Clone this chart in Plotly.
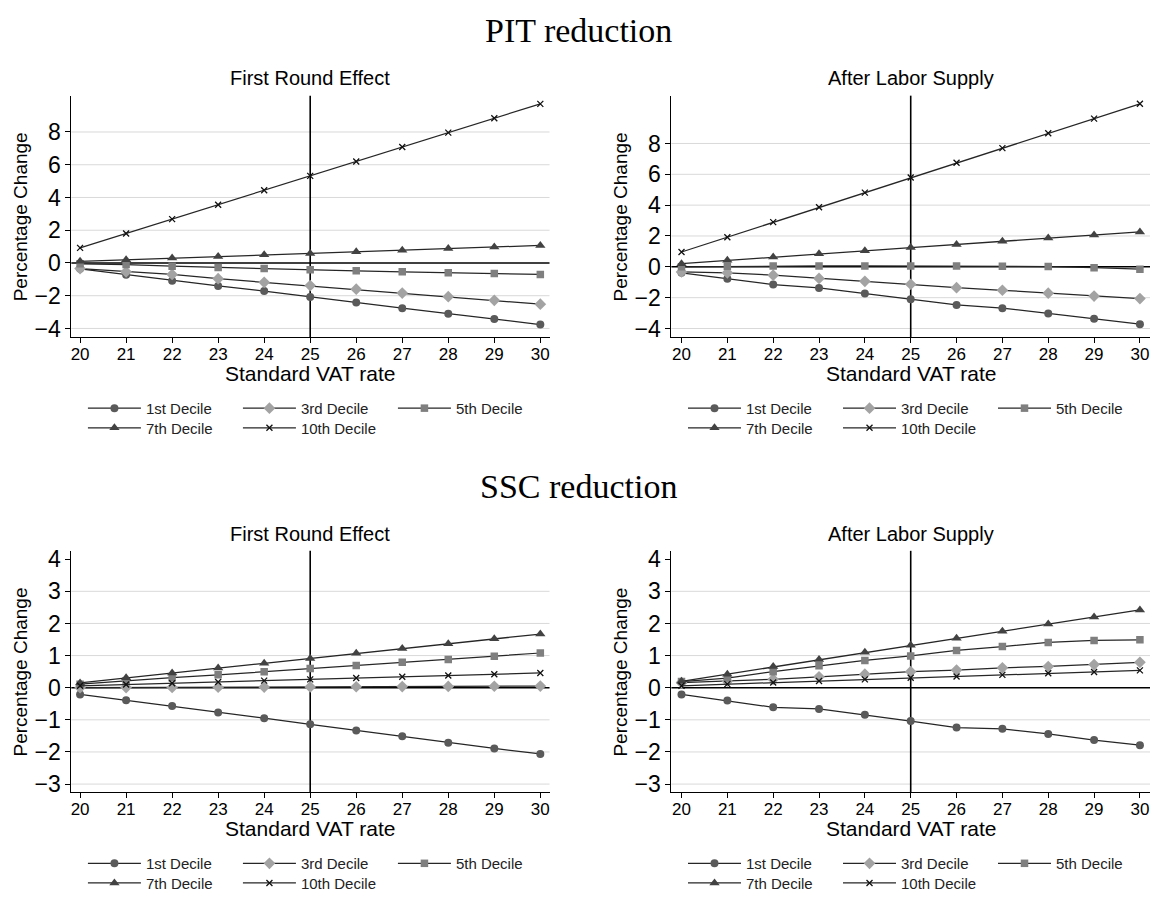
import plotly.graph_objects as go

W, H = 1150, 900

vat_rate = [20, 21, 22, 23, 24, 25, 26, 27, 28, 29, 30]
decile_names = ["1st Decile", "3rd Decile", "5th Decile", "7th Decile", "10th Decile"]

# PIT reduction - First Round Effect
pit_first_d1 = [-0.36, -0.72, -1.08, -1.40, -1.72, -2.08, -2.42, -2.76, -3.10, -3.42, -3.76]
pit_first_d3 = [-0.34, -0.54, -0.70, -0.96, -1.18, -1.38, -1.60, -1.84, -2.06, -2.28, -2.52]
pit_first_d5 = [-0.05, -0.10, -0.20, -0.28, -0.34, -0.42, -0.48, -0.54, -0.60, -0.64, -0.70]
pit_first_d7 = [0.10, 0.20, 0.30, 0.40, 0.50, 0.58, 0.68, 0.78, 0.88, 0.98, 1.07]
pit_first_d10 = [0.92, 1.80, 2.68, 3.56, 4.44, 5.32, 6.20, 7.08, 7.96, 8.84, 9.72]

# PIT reduction - After Labor Supply
pit_after_d1 = [-0.39, -0.77, -1.15, -1.37, -1.73, -2.10, -2.47, -2.68, -3.02, -3.36, -3.72]
pit_after_d3 = [-0.33, -0.39, -0.54, -0.75, -0.94, -1.13, -1.35, -1.52, -1.71, -1.90, -2.06]
pit_after_d5 = [0.00, 0.03, 0.05, 0.06, 0.06, 0.06, 0.05, 0.04, 0.02, -0.06, -0.15]
pit_after_d7 = [0.20, 0.42, 0.63, 0.84, 1.04, 1.25, 1.45, 1.66, 1.87, 2.06, 2.26]
pit_after_d10 = [0.96, 1.92, 2.90, 3.86, 4.81, 5.79, 6.75, 7.70, 8.66, 9.61, 10.57]

# SSC reduction - First Round Effect
ssc_first_d1 = [-0.21, -0.39, -0.57, -0.77, -0.95, -1.14, -1.33, -1.51, -1.71, -1.89, -2.06]
ssc_first_d3 = [0.00, 0.005, 0.01, 0.015, 0.02, 0.025, 0.03, 0.035, 0.04, 0.045, 0.05]
ssc_first_d5 = [0.11, 0.22, 0.31, 0.40, 0.50, 0.60, 0.69, 0.79, 0.88, 0.98, 1.08]
ssc_first_d7 = [0.15, 0.31, 0.46, 0.61, 0.76, 0.91, 1.07, 1.22, 1.37, 1.52, 1.67]
ssc_first_d10 = [0.06, 0.10, 0.14, 0.18, 0.22, 0.26, 0.30, 0.34, 0.38, 0.42, 0.46]

# SSC reduction - After Labor Supply
ssc_after_d1 = [-0.21, -0.40, -0.61, -0.66, -0.84, -1.04, -1.24, -1.28, -1.44, -1.63, -1.79]
ssc_after_d3 = [0.16, 0.20, 0.26, 0.34, 0.42, 0.50, 0.55, 0.62, 0.66, 0.72, 0.79]
ssc_after_d5 = [0.19, 0.30, 0.50, 0.68, 0.85, 0.99, 1.16, 1.28, 1.41, 1.47, 1.49]
ssc_after_d7 = [0.20, 0.42, 0.66, 0.88, 1.10, 1.32, 1.54, 1.76, 1.98, 2.20, 2.42]
ssc_after_d10 = [0.06, 0.11, 0.16, 0.21, 0.26, 0.31, 0.35, 0.40, 0.45, 0.49, 0.54]

panel_titles = ["First Round Effect", "After Labor Supply", "First Round Effect", "After Labor Supply"]
section_titles = ["PIT reduction", "SSC reduction"]
x_title = "Standard VAT rate"
y_title = "Percentage Change"
x_ticks = vat_rate
y_ticks_top = [-4, -2, 0, 2, 4, 6, 8]
y_ticks_bottom = [-3, -2, -1, 0, 1, 2, 3, 4]
grid_top = [-4, -2, 2, 4, 6, 8]
grid_bottom = [-3, -2, -1, 1, 2, 3]
ref_x = 25
ref_y = 0

panels = [
    [pit_first_d1, pit_first_d3, pit_first_d5, pit_first_d7, pit_first_d10],
    [pit_after_d1, pit_after_d3, pit_after_d5, pit_after_d7, pit_after_d10],
    [ssc_first_d1, ssc_first_d3, ssc_first_d5, ssc_first_d7, ssc_first_d10],
    [ssc_after_d1, ssc_after_d3, ssc_after_d5, ssc_after_d7, ssc_after_d10],
]

# ---- styling / geometry ----
SANS = "Liberation Sans, Arial, sans-serif"
SERIF = "Liberation Serif, Times New Roman, serif"
LINE_COL = "#262626"
marker_styles = [
    dict(symbol="circle", size=8, color="#5a5a5a"),
    dict(symbol="diamond", size=9, color="#a3a3a3"),
    dict(symbol="square", size=7.5, color="#7f7f7f"),
    dict(symbol="triangle-up", size=9, color="#424242"),
    dict(symbol="x-thin", size=6, color="#111111", line=dict(width=1.3, color="#111111")),
]

def px_x(p):
    return p / W

def px_y(p):
    return 1 - p / H

xl = (70.4, 549.0)
xr = (671.0, 1150.0)
yt = (92.3, 338.3)
yb = (555.7, 801.7)

dom = [
    (xl, yt, [19.81, 30.2], [-4.54, 10.22], y_ticks_top, grid_top),
    (xr, yt, [19.78, 30.22], [-4.57, 11.1], y_ticks_top, grid_top),
    (xl, yb, [19.81, 30.2], [-3.26, 4.26], y_ticks_bottom, grid_bottom),
    (xr, yb, [19.78, 30.22], [-3.26, 4.26], y_ticks_bottom, grid_bottom),
]

fig = go.Figure()
layout_extra = {}
shapes = []
annotations = []

row1_idx = [0, 1, 2]
legend_rows = {}
legend_counter = 1
for p in range(4):
    for r in range(2):
        name = "legend" if legend_counter == 1 else f"legend{legend_counter}"
        legend_rows[(p, r)] = name
        legend_counter += 1

for p, (data, (dx, dy, xr_, yr_, yticks, grids)) in enumerate(zip(panels, dom)):
    ax = "" if p == 0 else str(p + 1)
    xa, ya = "x" + ax, "y" + ax
    for k, vals in enumerate(data):
        m = dict(marker_styles[k])
        fig.add_trace(go.Scatter(
            x=vat_rate, y=vals, mode="lines+markers", name=decile_names[k],
            xaxis=xa, yaxis=ya,
            line=dict(color=LINE_COL, width=1.25),
            marker=m,
            legend=legend_rows[(p, 0 if k in row1_idx else 1)],
            showlegend=True,
        ))
    layout_extra["xaxis" + ax] = dict(
        domain=[px_x(dx[0]), px_x(dx[1])], range=xr_, anchor=ya,
        tickvals=x_ticks, ticks="outside", ticklen=5, tickwidth=1, tickcolor="#000",
        ticklabelstandoff=-4,
        showline=True, linecolor="#000", linewidth=1, showgrid=False, zeroline=False,
        tickfont=dict(family=SANS, size=17, color="#000"),
    )
    layout_extra["yaxis" + ax] = dict(
        domain=[px_y(dy[1]), px_y(dy[0])], range=yr_, anchor=xa,
        tickvals=yticks, ticks="outside", ticklen=5, tickwidth=1, tickcolor="#000",
        showline=True, linecolor="#000", linewidth=1,
        showgrid=False, zeroline=False,
        tickfont=dict(family=SANS, size=23, color="#000"),
    )
    # gridlines
    for tv in grids:
        shapes.append(dict(type="line", xref=xa + " domain", yref=ya, x0=0, x1=1, y0=tv, y1=tv,
                           line=dict(color="#d9d9d9", width=1), layer="below"))
    # reference lines
    shapes.append(dict(type="line", xref=xa, yref=ya + " domain", x0=ref_x, x1=ref_x, y0=0, y1=1,
                       line=dict(color="#000", width=1.6), layer="below"))
    shapes.append(dict(type="line", xref=xa + " domain", yref=ya, x0=0, x1=1, y0=ref_y, y1=ref_y,
                       line=dict(color="#000", width=1.6), layer="below"))
    cx = (dx[0] + dx[1]) / 2
    cy = (dy[0] + dy[1]) / 2
    annotations.append(dict(text=panel_titles[p], x=px_x(cx), y=px_y(dy[0] - 17.5), xref="paper", yref="paper",
                            xanchor="center", yanchor="middle", showarrow=False,
                            font=dict(family=SANS, size=20, color="#000")))
    annotations.append(dict(text=x_title, x=px_x(cx), y=px_y(dy[1] + 37), xref="paper", yref="paper",
                            xanchor="center", yanchor="middle", showarrow=False,
                            font=dict(family=SANS, size=21, color="#000")))
    annotations.append(dict(text=y_title, x=px_x(dx[0] - 50.5), y=px_y(cy), xref="paper", yref="paper",
                            xanchor="center", yanchor="middle", showarrow=False, textangle=-90,
                            font=dict(family=SANS, size=19, color="#000")))
    # legends
    for r in range(2):
        ly = dy[1] + (72.4 if r == 0 else 92.4)
        layout_extra[legend_rows[(p, r)]] = dict(
            orientation="h", x=px_x(dx[0] + 16.6 - 5), xanchor="left", xref="paper",
            y=px_y(ly), yanchor="middle", yref="paper",
            itemwidth=53, entrywidth=87, entrywidthmode="pixels",
            font=dict(family=SANS, size=15, color="#222"),
            bgcolor="rgba(0,0,0,0)", borderwidth=0, tracegroupgap=0,
            traceorder="normal",
        )

for i, t in enumerate(section_titles):
    annotations.append(dict(text=t, x=px_x(578), y=px_y(26 + i * 464), xref="paper", yref="paper",
                            xanchor="center", yanchor="middle", showarrow=False,
                            font=dict(family=SERIF, size=34, color="#000")))

fig.update_layout(
    width=W, height=H, margin=dict(l=0, r=0, t=0, b=0),
    paper_bgcolor="white", plot_bgcolor="white",
    shapes=shapes, annotations=annotations, showlegend=True,
    **layout_extra,
)

fig.write_html("out.html")
